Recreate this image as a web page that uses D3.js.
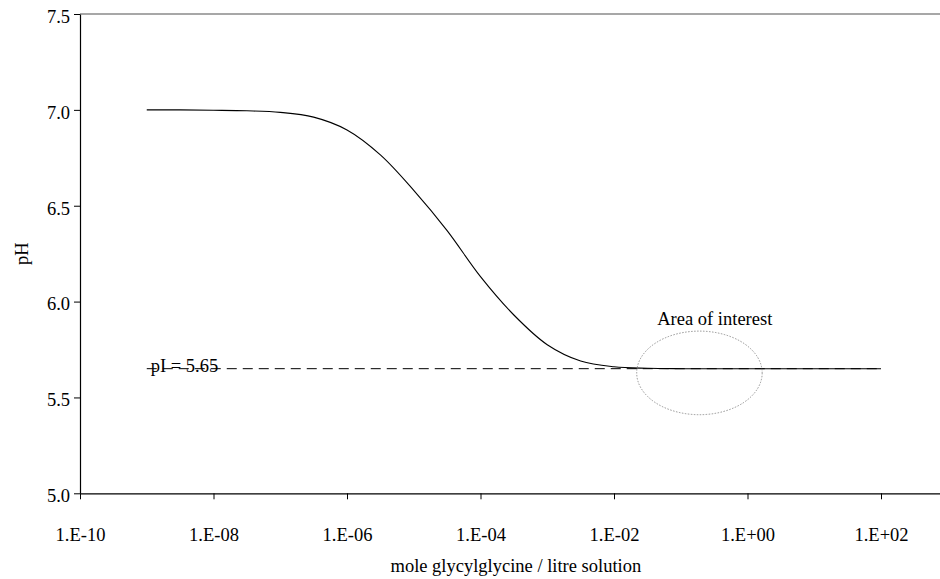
<!DOCTYPE html>
<html>
<head>
<meta charset="utf-8">
<script src="https://cdn.jsdelivr.net/npm/d3@7"></script>
<style>
  html, body { margin: 0; padding: 0; background: #fff; }
  svg text { font-family: "Liberation Serif", "Times New Roman", serif !important; fill: #000; }
</style>
</head>
<body>
<svg id="chart" width="940" height="579"></svg>
<script>
// ---- data ----
const logConc = [-9, -8.5, -8, -7.5, -7, -6.5, -6, -5.5, -5, -4.5, -4, -3.5, -3, -2.5, -2, -1.5, -1, 0, 1, 2];
const pHValues = [7.000, 7.000, 6.998, 6.995, 6.987, 6.962, 6.895, 6.765, 6.58, 6.37, 6.13, 5.93, 5.775, 5.69, 5.66, 5.652, 5.65, 5.65, 5.65, 5.65];
const xTickValues = [1e-10, 1e-8, 1e-6, 1e-4, 1e-2, 1e0, 1e2];
const xTickLabels = ["1.E-10", "1.E-08", "1.E-06", "1.E-04", "1.E-02", "1.E+00", "1.E+02"];
const yTickValues = [5.0, 5.5, 6.0, 6.5, 7.0, 7.5];
const yTickLabels = ["5.0", "5.5", "6.0", "6.5", "7.0", "7.5"];
const pILine = [[1e-9, 5.65], [1e2, 5.65]];
const pILabel = "pI = 5.65";
const areaEllipse = { cx: Math.pow(10, -0.72), cy: 5.628, rxDecades: 0.94, ryPH: 0.218 };
const areaLabel = { text: "Area of interest", x: Math.pow(10, -0.49), y: 5.878 };
const xTitle = "mole glycylglycine / litre solution";
const yTitle = "pH";

(function () {
  const svg = d3.select("#chart");
  const mLeft = 80, mTop = 14, mBottom = 493.3;
  const decadePx = 66.75;
  const x = d3.scaleLog().domain([1e-10, 1e3]).range([mLeft, mLeft + 13 * decadePx]);
  const y = d3.scaleLinear().domain([5.0, 7.5]).range([mBottom, mTop]);
  const FS = 18.5;
  const FONT = '"Liberation Serif", "Times New Roman", serif';

  // plot frame (gray top border)
  svg.append("line")
    .attr("x1", mLeft).attr("x2", x.range()[1])
    .attr("y1", y(7.5)).attr("y2", y(7.5))
    .attr("stroke", "#8a8a8a").attr("stroke-width", 1.5);

  // axes
  const xAxis = d3.axisBottom(x).tickValues(xTickValues)
    .tickFormat((d, i) => xTickLabels[i]).tickSize(6).tickSizeOuter(0);
  const gx = svg.append("g").attr("transform", `translate(0,${mBottom})`).call(xAxis)
    .attr("font-family", null).attr("font-size", null);
  gx.select(".domain").attr("stroke", "#000").attr("stroke-width", 1.2);
  gx.selectAll(".tick line").attr("stroke", "#000");
  gx.selectAll(".tick text").attr("dy", "0").attr("y", 48)
    .style("font-family", FONT).style("font-size", FS + "px").attr("fill", "#000");

  const yAxis = d3.axisLeft(y).tickValues(yTickValues)
    .tickFormat((d, i) => yTickLabels[i]).tickSize(6).tickSizeOuter(0).tickPadding(4);
  const gy = svg.append("g").attr("transform", `translate(${mLeft},0)`).call(yAxis)
    .attr("font-family", null).attr("font-size", null);
  gy.select(".domain").attr("stroke", "#000").attr("stroke-width", 1.2);
  gy.selectAll(".tick line").attr("stroke", "#000");
  gy.selectAll(".tick text").attr("dy", "0.45em")
    .style("font-family", FONT).style("font-size", FS + "px").attr("fill", "#000");

  // pI dashed line
  svg.append("path")
    .datum(pILine)
    .attr("d", d3.line().x(d => x(d[0])).y(d => y(d[1])))
    .attr("fill", "none").attr("stroke", "#000").attr("stroke-width", 1)
    .attr("stroke-dasharray", "10,6");

  // curve
  const pts = logConc.map((l, i) => [Math.pow(10, l), pHValues[i]]);
  svg.append("path")
    .datum(pts)
    .attr("d", d3.line().x(d => x(d[0])).y(d => y(d[1])).curve(d3.curveCatmullRom.alpha(0.5)))
    .attr("fill", "none").attr("stroke", "#000").attr("stroke-width", 1.1);

  // ellipse annotation
  svg.append("ellipse")
    .attr("cx", x(areaEllipse.cx)).attr("cy", y(areaEllipse.cy))
    .attr("rx", x(Math.pow(10, areaEllipse.rxDecades)) - x(1))
    .attr("ry", y(5) - y(5 + areaEllipse.ryPH))
    .attr("fill", "none").attr("stroke", "#888").attr("stroke-width", 0.9)
    .attr("stroke-dasharray", "1.5,1.5");

  const txt = (sel) => sel.style("font-family", FONT).style("font-size", FS + "px");

  svg.append("text")
    .attr("x", x(areaLabel.x)).attr("y", y(areaLabel.y))
    .attr("text-anchor", "middle").call(txt)
    .text(areaLabel.text);

  // pI label
  svg.append("text")
    .attr("x", x(pILine[0][0]) + 4).attr("y", y(pILine[0][1]) + 3.5)
    .call(txt)
    .text(pILabel);

  // axis titles
  svg.append("text")
    .attr("x", (x.range()[0] + x.range()[1]) / 2 + 2).attr("y", 572)
    .attr("text-anchor", "middle").call(txt)
    .text(xTitle);

  svg.append("text")
    .attr("transform", `translate(28,${(mTop + mBottom) / 2}) rotate(-90)`)
    .attr("text-anchor", "middle").call(txt)
    .text(yTitle);
})();
</script>
</body>
</html>
